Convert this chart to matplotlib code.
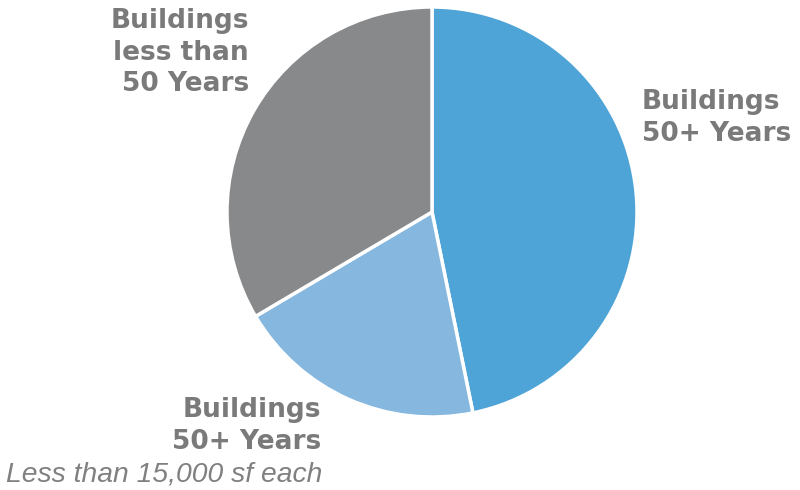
import numpy as np
import matplotlib
matplotlib.use("Agg")
import matplotlib.pyplot as plt

# 數據：建築物屋齡分佈
labels = ["Buildings\n50+ Years", "Buildings\n50+ Years", "Buildings\nless than\n50 Years"]
shares = [46.8, 19.7, 33.5]
colors = ["#4ea3d7", "#85b7df", "#88898b"]
note = "Less than 15,000 sf each"

W, H = 800, 490
fig = plt.figure(figsize=(W / 100, H / 100), dpi=100)
ax = fig.add_axes([0, 0, 1, 1])

ax.pie(shares, colors=colors, startangle=90, counterclock=False,
       center=(432, H - 212), radius=205,
       wedgeprops=dict(edgecolor="white", linewidth=2.5))
ax.set_xlim(0, W)
ax.set_ylim(0, H)
ax.set_aspect("auto")
ax.axis("off")

txt = dict(fontfamily="DejaVu Sans", fontweight="bold", fontsize=19,
           color="#7a7a7a", linespacing=1.28)

# 右側標籤
ax.text(642, H - 89, labels[0], ha="left", va="top", multialignment="left", **txt)
# 下方標籤
ax.text(321, H - 397, labels[1], ha="right", va="top", multialignment="right", **txt)
# 左上標籤
ax.text(249, H - 8, labels[2], ha="right", va="top", multialignment="right", **txt)

ax.text(322, H - 481, note, ha="right", va="baseline", fontfamily="Liberation Sans",
        fontstyle="italic", fontsize=20.3, color="#808080")

fig.savefig("out.png", dpi=100)
